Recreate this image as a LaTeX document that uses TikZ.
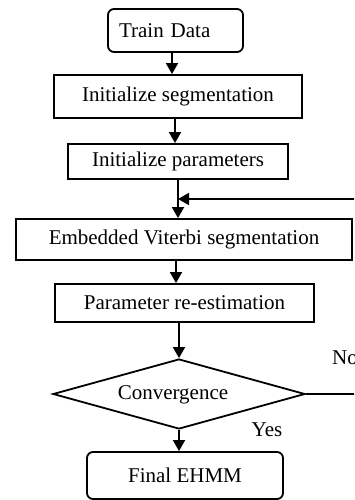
\documentclass[tikz,border=0pt]{standalone}
\usepackage{fontspec}
\setmainfont{Liberation Serif}
\usetikzlibrary{arrows.meta,shapes.geometric}
\begin{document}
\begin{tikzpicture}[x=1pt,y=-1pt,
  every node/.style={font=\fontsize{21}{25}\selectfont},
  box/.style={draw,line width=1.8pt,inner sep=0pt},
  rbox/.style={box,rounded corners=6pt},
  txt/.style={inner sep=0pt},
  link/.style={line width=1.8pt},
  arr/.style={link,-{Triangle[length=11pt,width=12pt]}}]
\path[use as bounding box, clip] (0,0) rectangle (354,500);

% process boxes
\node[rbox,minimum width=135pt,minimum height=43pt,text width=113pt,align=left] (train) at (175.5,30.5) {Train Data};
\node[box,minimum width=248pt,minimum height=43pt] (iseg) at (178,96.5) {Initialize segmentation};
\node[box,minimum width=220pt,minimum height=35pt] (ipar) at (178,161.5) {Initialize parameters};
\node[box,minimum width=336pt,minimum height=41pt] (evit) at (184,239.5) {Embedded Viterbi segmentation};
\node[box,minimum width=259pt,minimum height=38pt] (pre) at (184.5,303) {Parameter re-estimation};
\node[diamond,draw,line width=1.8pt,inner sep=0pt,minimum width=252pt,minimum height=70pt] (conv) at (179,394) {};
\node[txt,anchor=base] (convtxt) at (173,399) {Convergence};
\node[rbox,minimum width=196pt,minimum height=47pt] (final) at (185,475.5) {Final EHMM};

% branch labels
\node[txt,anchor=west] (no) at (332,358) {No};
\node[txt] (yes) at (267,429.5) {Yes};

% main flow
\draw[arr] (train.south -| 172,0) -- (iseg.north -| 172,0);
\draw[arr] (iseg.south -| 175,0) -- (ipar.north -| 175,0);
\draw[arr] (ipar.south) -- (ipar.south |- evit.north);
\draw[arr] (evit.south -| 176,0) -- (pre.north -| 176,0);
\draw[arr] (pre.south -| conv.north) -- (conv.north);
\draw[arr] (conv.south) -- (conv.south |- final.north);

% loop back when not converged
\coordinate (loop) at (380,199);
\draw[arr] (conv.east) -- (conv.east -| loop) -- (loop) -- (ipar.south |- loop);
\end{tikzpicture}
\end{document}
